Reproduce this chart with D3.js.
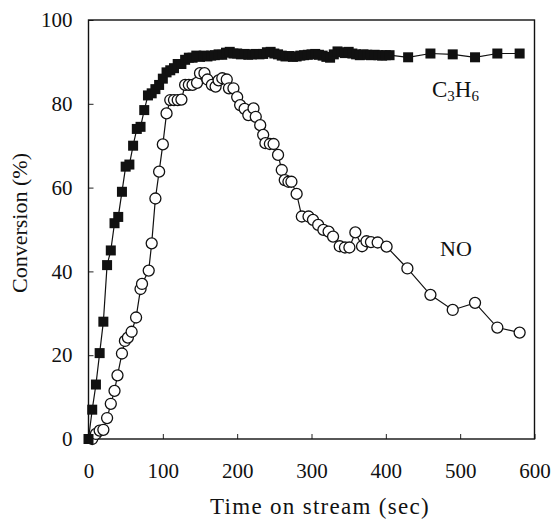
<!DOCTYPE html>
<html>
<head>
<meta charset="utf-8">
<script src="https://cdn.jsdelivr.net/npm/d3@7"></script>
<style>
  body { margin: 0; background: #fff; }
  text { font-family: "Liberation Serif", "DejaVu Serif", serif; fill: #111; }
</style>
</head>
<body>
<div id="chart"></div>
<script>
// data
const c3h6Time = [0, 5, 10, 15, 20, 25, 30, 35, 40, 45, 50, 55, 60, 65, 70, 75, 80, 85, 90, 95,
  100, 105, 110, 115, 120, 125, 130, 135, 140, 145, 150, 155, 160, 165, 170, 175, 180, 185, 190, 195,
  200, 205, 210, 215, 220, 225, 230, 235, 240, 245, 250, 255, 260, 265, 270, 275, 280, 285, 290, 295,
  300, 305, 310, 315, 320, 325, 330, 335, 340, 345, 350, 355, 360, 365, 370, 375, 380, 385, 390, 395,
  400, 405, 430, 460, 490, 520, 550, 580];
const c3h6Conv = [0, 7, 13, 20.5, 28, 41.5, 45, 51.5, 53, 59, 65, 65.5, 70, 74, 74.5, 78.5, 82, 82.5, 83.5, 84.5,
  86, 87.5, 88, 88.5, 89.5, 89.5, 90.5, 91, 91, 91.5, 91.2, 91.5, 91.3, 91.5, 91.6, 91.8, 91.7, 92.2, 92.4, 92,
  92, 91.8, 91.9, 91.7, 91.8, 91.9, 91.8, 91.9, 92.3, 92.4, 92, 91.8, 91.5, 91.3, 91.4, 91.2, 91.3, 91.5, 91.6, 91.7,
  91.8, 91.9, 91.7, 91.5, 91.2, 91, 91.8, 92.5, 92.3, 92.1, 92.4, 92, 91.8, 91.6, 91.8, 91.7, 91.6, 91.7, 91.6, 91.5,
  91.6, 91.6, 91.1, 92, 91.8, 91.1, 92, 92];

const noTime = [5, 10, 15, 20, 25, 30, 35, 39, 45, 49, 53, 58, 64, 70, 72, 81, 85, 90, 95, 100,
  105, 110, 115, 120, 125, 130, 135, 140, 146, 150, 156, 160, 166, 171, 175, 180, 186, 189, 195, 200,
  204, 210, 215, 222, 225, 231, 235, 238, 244, 249, 255, 260, 264, 269, 273, 280, 287, 296, 302, 309,
  316, 323, 329, 338, 345, 351, 359, 368, 374, 380, 389, 401, 429, 460, 490, 520, 550, 580];
const noConv = [0, 1.2, 2, 2.2, 5, 8.4, 11.5, 15.2, 20.4, 23.4, 24.2, 25.6, 29, 35.8, 37, 40.2, 46.7, 57.4, 63.8, 70.3,
  77.7, 80.9, 80.9, 80.9, 81, 84.5, 84.5, 84.5, 85, 87.3, 87.3, 85.8, 84.5, 84.1, 85.6, 86.1, 85.8, 83.7, 83.7, 81.6,
  79.7, 78.8, 77.3, 78.9, 76.9, 74.9, 72.6, 70.6, 70.4, 70.4, 67.8, 64.2, 61.8, 61.4, 61.4, 58.5, 53.1, 53.1, 52.3, 51.1,
  49.9, 49.5, 48.3, 46, 45.7, 45.7, 49.3, 46, 47.2, 47, 46.9, 45.9, 40.7, 34.4, 30.8, 32.5, 26.6, 25.4];

const xTicks = [0, 100, 200, 300, 400, 500, 600];
const yTicks = [0, 20, 40, 60, 80, 100];

const W = 552, H = 520;
const plot = {left: 88.5, top: 20, right: 534.5, bottom: 439};

const svg = d3.select("#chart")
  .append("svg")
  .attr("width", W)
  .attr("height", H);

const x = d3.scaleLinear().domain([0, 600]).range([plot.left, plot.right]);
const y = d3.scaleLinear().domain([0, 100]).range([plot.bottom, plot.top]);

// axes, ticks pointing inwards
svg.append("g")
  .attr("transform", `translate(0, ${plot.bottom})`)
  .call(d3.axisBottom(x).tickValues(xTicks).tickSizeInner(-5).tickSizeOuter(0).tickPadding(24))
  .call(g => g.select(".domain").remove())
  .call(g => g.selectAll("line").attr("stroke", "#222").attr("stroke-width", 1))
  .call(g => g.selectAll("text").attr("font-size", 21).style("font-family", "Liberation Serif"));

svg.append("g")
  .attr("transform", `translate(${plot.left}, 0)`)
  .call(d3.axisLeft(y).tickValues(yTicks).tickSizeInner(-5).tickSizeOuter(0).tickPadding(16))
  .call(g => g.select(".domain").remove())
  .call(g => g.selectAll("line").attr("stroke", "#222").attr("stroke-width", 1))
  .call(g => g.selectAll("text").attr("font-size", 21).style("font-family", "Liberation Serif"));

// frame
svg.append("rect")
  .attr("x", plot.left)
  .attr("y", plot.top)
  .attr("width", plot.right - plot.left)
  .attr("height", plot.bottom - plot.top)
  .attr("fill", "none")
  .attr("stroke", "#111")
  .attr("stroke-width", 1.4);

// axis titles
svg.append("text")
  .attr("x", 320)
  .attr("y", 514)
  .attr("text-anchor", "middle")
  .attr("font-size", 23)
  .attr("letter-spacing", 1.3)
  .text("Time on stream (sec)");

svg.append("text")
  .attr("transform", "translate(27, 223) rotate(-90)")
  .attr("text-anchor", "middle")
  .attr("font-size", 22)
  .text("Conversion (%)");

const c3h6 = c3h6Time.map((t, i) => ({t: t, v: c3h6Conv[i]}));
const no = noTime.map((t, i) => ({t: t, v: noConv[i]}));

const line = d3.line()
  .x(d => x(d.t))
  .y(d => y(d.v));

svg.append("path")
  .datum(no)
  .attr("fill", "none")
  .attr("stroke", "#111")
  .attr("stroke-width", 1.2)
  .attr("d", line);

svg.append("path")
  .datum(c3h6)
  .attr("fill", "none")
  .attr("stroke", "#111")
  .attr("stroke-width", 1.2)
  .attr("d", line);

// open circles for NO
svg.append("g")
  .selectAll("circle")
  .data(no)
  .join("circle")
    .attr("cx", d => x(d.t))
    .attr("cy", d => y(d.v))
    .attr("r", 5.5)
    .attr("fill", "#fff")
    .attr("stroke", "#111")
    .attr("stroke-width", 1.3);

// filled squares for C3H6
const sq = 10;
svg.append("g")
  .selectAll("rect")
  .data(c3h6)
  .join("rect")
    .attr("x", d => x(d.t) - sq / 2)
    .attr("y", d => y(d.v) - sq / 2)
    .attr("width", sq)
    .attr("height", sq)
    .attr("fill", "#111");

// series labels
const lab1 = svg.append("text")
  .attr("x", 432)
  .attr("y", 97)
  .attr("font-size", 23);
lab1.append("tspan").text("C");
lab1.append("tspan").attr("font-size", 15).attr("dy", 4).text("3");
lab1.append("tspan").attr("dy", -4).text("H");
lab1.append("tspan").attr("font-size", 15).attr("dy", 4).text("6");

svg.append("text")
  .attr("x", 440)
  .attr("y", 256)
  .attr("font-size", 22)
  .text("NO");
</script>
</body>
</html>
